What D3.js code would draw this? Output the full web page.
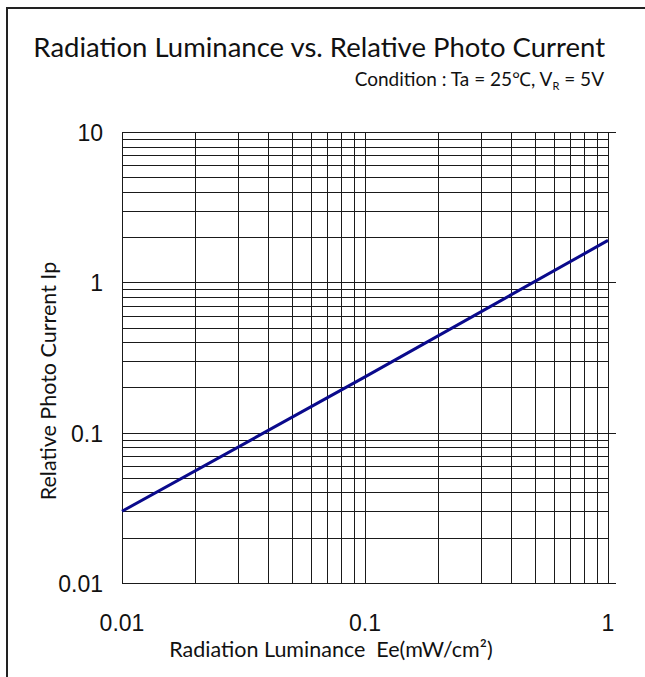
<!DOCTYPE html>
<html><head><meta charset="utf-8">
<script src="https://cdn.jsdelivr.net/npm/d3@7"></script>
<style>body{margin:0;background:#fff}svg{display:block}</style>
</head><body>
<svg id="c" width="645" height="677"></svg>
<script>
const title = "Radiation Luminance vs. Relative Photo Current";
const condition = "Condition : Ta = 25\u2103, V";
const xTitle = "Radiation Luminance\u00a0\u00a0Ee(mW/cm\u00b2)";
const yTitle = "Relative Photo Current Ip";
const xTickValues = [0.01, 0.1, 1];
const xTickLabels = ["0.01", "0.1", "1"];
const yTickValues = [0.01, 0.1, 1, 10];
const yTickLabels = ["0.01", "0.1", "1", "10"];
const seriesX = [0.01, 0.1, 1];
const seriesY = [0.03, 0.235, 1.9];

const svg = d3.select("#c");
const L = 122, R = 608, T = 132, B = 583;
const x = d3.scaleLog().domain([0.01, 1]).range([L, R]);
const y = d3.scaleLog().domain([0.01, 10]).range([B, T]);

// frame
svg.append("path").attr("d", "M7,677V8H645").attr("fill", "none").attr("stroke", "#222").attr("stroke-width", 2);

// grid
const xGrid = [];
for (let d = -2; d < 0; d++) for (let k = 1; k <= 9; k++) xGrid.push(k * Math.pow(10, d));
xGrid.push(1);
const yGrid = [];
for (let d = -2; d < 1; d++) for (let k = 1; k <= 9; k++) yGrid.push(k * Math.pow(10, d));
yGrid.push(10);
const g = svg.append("g").attr("stroke", "#1a1a1a").attr("stroke-width", 1).attr("shape-rendering", "crispEdges");
g.selectAll(".v").data(xGrid).join("line")
  .attr("x1", d => Math.round(x(d)) + 0.5).attr("x2", d => Math.round(x(d)) + 0.5)
  .attr("y1", T).attr("y2", B);
g.selectAll(".h").data(yGrid).join("line")
  .attr("y1", d => Math.round(y(d)) + 0.5).attr("y2", d => Math.round(y(d)) + 0.5)
  .attr("x1", L)
  .attr("x2", d => yTickValues.some(v => Math.abs(v - d) < 1e-9) ? R + 8 : R);

// series
svg.append("path").datum(seriesX.map((v, i) => [v, seriesY[i]]))
  .attr("d", d3.line().x(d => x(d[0])).y(d => y(d[1])))
  .attr("fill", "none").attr("stroke", "#0a0a8c").attr("stroke-width", 3);

// tick labels
const tickFont = "'Liberation Sans Narrow', 'Liberation Sans', Arial, sans-serif";
svg.selectAll(".yl").data(yTickValues).join("text")
  .attr("x", 103).attr("y", d => y(d) + 9)
  .attr("text-anchor", "end").attr("font-family", tickFont).attr("font-size", 23).attr("fill", "#111")
  .text((d, i) => yTickLabels[i]);
svg.selectAll(".xl").data(xTickValues).join("text")
  .attr("x", d => x(d)).attr("y", 631)
  .attr("text-anchor", "middle").attr("font-family", tickFont).attr("font-size", 23).attr("fill", "#111")
  .text((d, i) => xTickLabels[i]);

const txtFont = "Lato, 'Open Sans', sans-serif";
svg.append("text").attr("x", 605).attr("y", 57).attr("text-anchor", "end")
  .attr("font-family", txtFont).attr("font-size", 27.5).attr("fill", "#111").text(title);
const ct = svg.append("text").attr("x", 604).attr("y", 86).attr("text-anchor", "end")
  .attr("font-family", txtFont).attr("font-size", 19).attr("fill", "#111");
ct.append("tspan").text(condition);
ct.append("tspan").attr("font-size", 11).attr("dy", 4).text("R");
ct.append("tspan").attr("dy", -4).text(" = 5V");

svg.append("text").attr("x", 331).attr("y", 657).attr("text-anchor", "middle")
  .attr("font-family", txtFont).attr("font-size", 21.5).attr("fill", "#111").text(xTitle);
svg.append("text").attr("transform", "translate(56,381) rotate(-90)").attr("text-anchor", "middle")
  .attr("font-family", txtFont).attr("font-size", 21.5).attr("fill", "#111").text(yTitle);
</script>
</body></html>
